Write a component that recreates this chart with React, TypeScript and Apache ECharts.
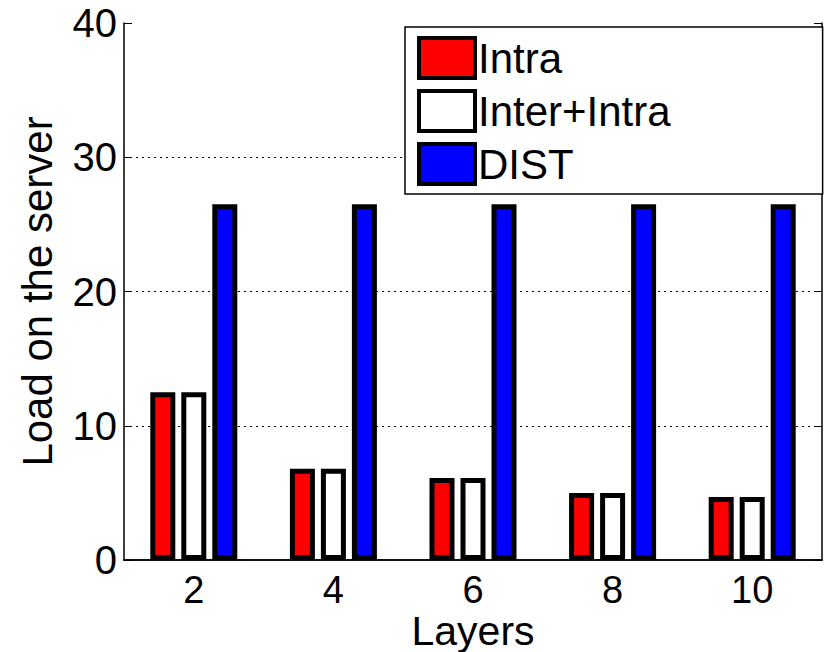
import React, { useEffect, useRef } from "react";
import * as echarts from "echarts";

const categories = ["2", "4", "6", "8", "10"];
const intra = [12.5, 6.8, 6.1, 5.0, 4.7];
const interIntra = [12.5, 6.8, 6.1, 5.0, 4.7];
const dist = [26.5, 26.5, 26.5, 26.5, 26.5];
const yTicks = { min: 0, max: 40, interval: 10 };

const FONT = "'Liberation Sans', Arial, sans-serif";

export default function App() {
  const ref = useRef<HTMLDivElement>(null);
  useEffect(() => {
    if (!ref.current) return;
    const chart = echarts.init(ref.current, null, { renderer: "svg" });
    const barStyle = (color: string) => ({
      color,
      borderColor: "#000",
      borderWidth: 5,
    });
    chart.setOption({
      animation: false,
      backgroundColor: "#fff",
      textStyle: { fontFamily: FONT, color: "#000" },
      grid: {
        left: 124,
        right: 5,
        top: 23,
        bottom: 92,
        containLabel: false,
        outerBoundsMode: "none",
      },
      legend: {
        orient: "vertical",
        left: 405,
        top: 27,
        padding: [9, 152, 8, 12],
        itemGap: 9,
        itemWidth: 56,
        itemHeight: 40,
        backgroundColor: "#fff",
        borderColor: "#000",
        borderWidth: 1.5,
        icon: "rect",
        itemStyle: { borderColor: "#000", borderWidth: 4 },
        textStyle: { fontSize: 42, fontFamily: FONT, color: "#000", padding: [0, 0, 0, -2] },
        data: ["Intra", "Inter+Intra", "DIST"],
      },
      xAxis: [
        {
          type: "category",
          data: categories,
          position: "bottom",
          name: "Layers",
          nameLocation: "middle",
          nameGap: 50,
          nameMoveOverlap: false,
          nameTextStyle: {
            fontSize: 41,
            fontFamily: FONT,
            color: "#000",
            verticalAlign: "top",
          },
          axisLine: { lineStyle: { color: "#000", width: 1.5 } },
          axisTick: { inside: true, alignWithLabel: true, length: 8, lineStyle: { color: "#000" } },
          axisLabel: { fontSize: 38, fontFamily: FONT, color: "#000", margin: 11 },
          splitLine: { show: false },
        },
        {
          type: "category",
          data: categories,
          position: "top",
          axisLine: { lineStyle: { color: "#000", width: 1.5 } },
          axisTick: { inside: true, alignWithLabel: true, length: 8, lineStyle: { color: "#000" } },
          axisLabel: { show: false },
          splitLine: { show: false },
        },
      ],
      yAxis: [
        {
          type: "value",
          min: yTicks.min,
          max: yTicks.max,
          interval: yTicks.interval,
          position: "left",
          name: "Load on the server",
          nameLocation: "middle",
          nameGap: 66,
          nameTextStyle: { fontSize: 42, fontFamily: FONT, color: "#000" },
          axisLine: { show: true, lineStyle: { color: "#000", width: 1.5 } },
          axisTick: { show: true, inside: true, length: 8, lineStyle: { color: "#000" } },
          axisLabel: { fontSize: 40, fontFamily: FONT, color: "#000", margin: 7 },
          splitLine: {
            show: true,
            showMinLine: false,
            showMaxLine: false,
            lineStyle: { color: "#000", type: [2, 4], width: 1.2 },
          },
        },
        {
          type: "value",
          min: yTicks.min,
          max: yTicks.max,
          interval: yTicks.interval,
          position: "right",
          axisLine: { show: true, lineStyle: { color: "#000", width: 1.5 } },
          axisTick: { show: true, inside: true, length: 8, lineStyle: { color: "#000" } },
          axisLabel: { show: false },
          splitLine: { show: false },
        },
      ],
      series: [
        {
          name: "Intra",
          type: "bar",
          data: intra,
          barWidth: 25,
          barGap: "24%",
          itemStyle: barStyle("#ff0000"),
        },
        {
          name: "Inter+Intra",
          type: "bar",
          data: interIntra,
          barWidth: 25,
          barGap: "24%",
          itemStyle: barStyle("#ffffff"),
        },
        {
          name: "DIST",
          type: "bar",
          data: dist,
          barWidth: 25,
          barGap: "24%",
          itemStyle: barStyle("#0000ff"),
        },
      ],
    });
    return () => chart.dispose();
  }, []);
  return <div ref={ref} style={{ width: 827, height: 652, position: "absolute", left: 0, top: 0 }} />;
}
